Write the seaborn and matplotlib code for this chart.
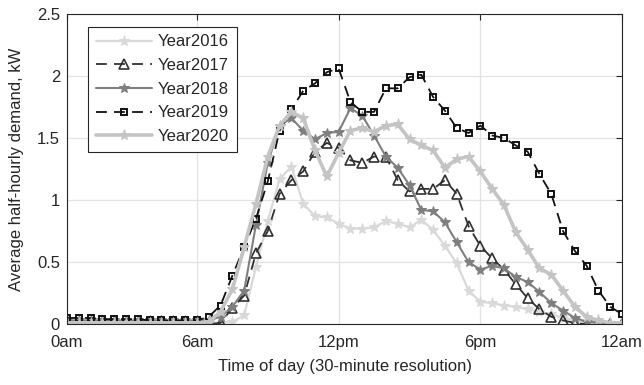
import matplotlib
matplotlib.use("Agg")
import matplotlib.pyplot as plt
import seaborn as sns
import numpy as np
import pandas as pd

# half-hour slot index 1..48
slots = list(range(1, 49))
tick_positions = [1, 12, 24, 36, 48]
tick_labels = ["0am", "6am", "12pm", "6pm", "12am"]

year2016 = [0.01, 0.01, 0.01, 0.01, 0.01, 0.01, 0.01, 0.01, 0.01, 0.01, 0.01, 0.01,
            0.01, 0.01, 0.02, 0.07, 0.46, 0.83, 1.17, 1.27, 0.97, 0.87, 0.86, 0.81,
            0.77, 0.77, 0.78, 0.83, 0.81, 0.78, 0.84, 0.76, 0.63, 0.49, 0.27, 0.18,
            0.17, 0.15, 0.14, 0.12, 0.10, 0.08, 0.05, 0.03, 0.02, 0.01, 0.01, 0.00]
year2017 = [0.00, 0.00, 0.00, 0.00, 0.00, 0.00, 0.00, 0.00, 0.00, 0.00, 0.00, 0.00,
            0.00, 0.01, 0.13, 0.23, 0.57, 0.75, 1.05, 1.16, 1.23, 1.39, 1.46, 1.42,
            1.32, 1.30, 1.35, 1.35, 1.16, 1.07, 1.09, 1.09, 1.16, 1.05, 0.79, 0.63,
            0.53, 0.44, 0.32, 0.21, 0.12, 0.06, 0.03, 0.01, 0.00, 0.00, 0.00, 0.00]
year2018 = [0.03, 0.03, 0.03, 0.03, 0.03, 0.03, 0.03, 0.03, 0.03, 0.03, 0.03, 0.03,
            0.03, 0.06, 0.14, 0.27, 0.80, 1.30, 1.60, 1.66, 1.56, 1.49, 1.54, 1.55,
            1.74, 1.68, 1.52, 1.35, 1.26, 1.12, 0.92, 0.91, 0.82, 0.66, 0.50, 0.44,
            0.47, 0.45, 0.38, 0.34, 0.26, 0.17, 0.11, 0.05, 0.02, 0.01, 0.00, 0.00]
year2019 = [0.05, 0.05, 0.05, 0.04, 0.04, 0.04, 0.04, 0.03, 0.03, 0.03, 0.03, 0.03,
            0.06, 0.15, 0.39, 0.62, 0.85, 1.15, 1.56, 1.73, 1.88, 1.94, 2.03, 2.06,
            1.79, 1.71, 1.71, 1.90, 1.90, 1.99, 2.01, 1.83, 1.72, 1.58, 1.54, 1.60,
            1.52, 1.50, 1.44, 1.39, 1.21, 1.05, 0.75, 0.59, 0.47, 0.27, 0.14, 0.08]
year2020 = [0.01, 0.01, 0.01, 0.01, 0.01, 0.01, 0.01, 0.01, 0.01, 0.01, 0.01, 0.01,
            0.02, 0.10, 0.28, 0.62, 0.97, 1.35, 1.60, 1.71, 1.66, 1.40, 1.19, 1.38,
            1.56, 1.58, 1.55, 1.60, 1.61, 1.49, 1.44, 1.40, 1.26, 1.33, 1.35, 1.23,
            1.09, 0.96, 0.74, 0.60, 0.45, 0.40, 0.27, 0.14, 0.06, 0.03, 0.01, 0.01]

series = {"Year2016": year2016, "Year2017": year2017, "Year2018": year2018,
          "Year2019": year2019, "Year2020": year2020}

styles = {
    "Year2016": dict(color="#d9d9d9", linestyle="-", linewidth=1.6, marker="*",
                     markersize=8, markerfacecolor="#d9d9d9", markeredgecolor="#d9d9d9"),
    "Year2017": dict(color="#303030", linestyle=(0, (6, 4)), linewidth=1.3, marker="^",
                     markersize=7, markerfacecolor="none", markeredgecolor="#303030",
                     markeredgewidth=1.2),
    "Year2018": dict(color="#7f7f7f", linestyle="-", linewidth=1.5, marker="*",
                     markersize=7, markerfacecolor="#7f7f7f", markeredgecolor="#7f7f7f"),
    "Year2019": dict(color="#111111", linestyle=(0, (6, 4)), linewidth=1.3, marker="s",
                     markersize=5, markerfacecolor="none", markeredgecolor="#111111",
                     markeredgewidth=1.4),
    "Year2020": dict(color="#c4c4c4", linestyle="-", linewidth=2.6, marker="*",
                     markersize=8, markerfacecolor="#c4c4c4", markeredgecolor="#c4c4c4"),
}

sns.set_theme(style="white")
plt.rcParams["font.family"] = ["Liberation Sans", "DejaVu Sans"]

fig = plt.figure(figsize=(6.44, 3.85), dpi=100)
ax = fig.add_axes([0.104, 0.158, 0.862, 0.806])

for name, vals in series.items():
    df = pd.DataFrame({"slot": slots, "demand": vals})
    sns.lineplot(data=df, x="slot", y="demand", ax=ax, label=name, **styles[name])

ax.set_xlim(1, 48)
ax.set_ylim(0, 2.5)
ax.set_xticks(tick_positions)
ax.set_xticklabels(tick_labels)
ax.set_yticks([0, 0.5, 1, 1.5, 2, 2.5])
ax.set_yticklabels(["0", "0.5", "1", "1.5", "2", "2.5"])
ax.grid(True, color="#e3e3e3", linewidth=0.9)
ax.set_axisbelow(True)
ax.tick_params(direction="in", top=True, right=True, length=4, width=0.8,
               labelsize=12, colors="#262626")
ax.tick_params(axis="x", pad=8)
ax.tick_params(axis="y", pad=5)
for s in ax.spines.values():
    s.set_color("#262626")
    s.set_linewidth(0.8)
ax.set_xlabel("Time of day (30-minute resolution)", fontsize=12, color="#262626", labelpad=6)
ax.set_ylabel("Average half-hourly demand, kW", fontsize=12, color="#262626", labelpad=9)

leg = ax.legend(loc="upper left", bbox_to_anchor=(0.038, 0.958), fontsize=12,
                frameon=True, fancybox=False, edgecolor="#262626", framealpha=1,
                handlelength=3.4, borderpad=0.45, labelspacing=0.52, handletextpad=0.35,
                borderaxespad=0)
leg.get_frame().set_linewidth(0.8)

fig.savefig("out.png", dpi=100)
